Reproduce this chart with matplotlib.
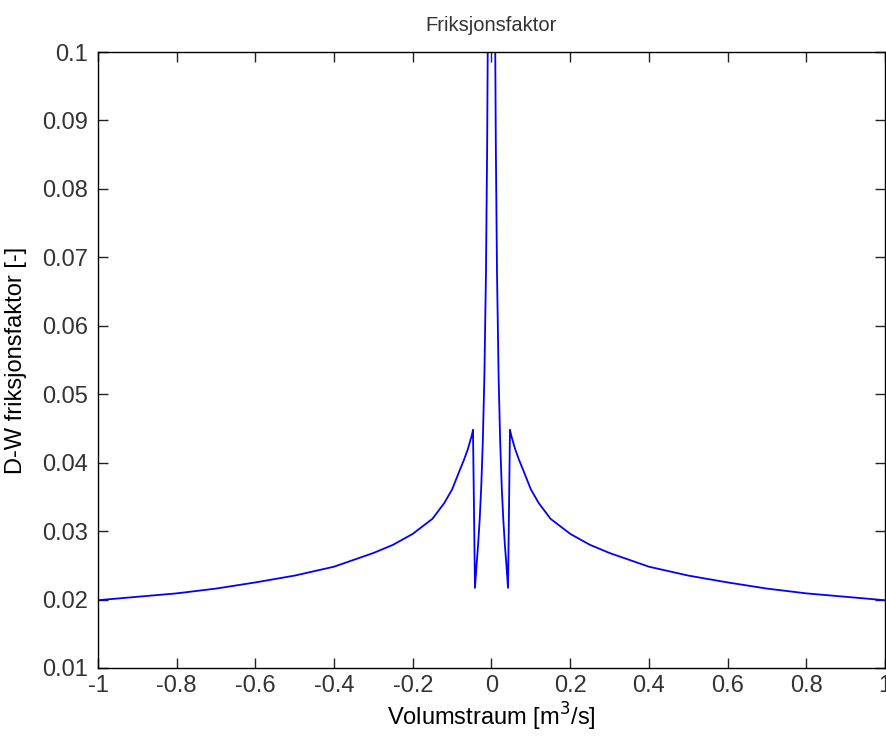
import matplotlib
matplotlib.use("Agg")
import matplotlib.pyplot as plt

# ---- data (Q in m3/s, f = Darcy-Weisbach friction factor) ----
q_vals = [-1.0, -0.9, -0.8, -0.7, -0.6, -0.5, -0.4, -0.3, -0.25, -0.2, -0.15, -0.12,
          -0.1, -0.08, -0.07, -0.06, -0.05, -0.047,
          -0.042, -0.038, -0.034, -0.030, -0.026, -0.022, -0.018, -0.014, -0.011,
          -0.009, -0.007, -0.005,
          0.005, 0.007, 0.009,
          0.011, 0.014, 0.018, 0.022, 0.026, 0.030, 0.034, 0.038, 0.042,
          0.047, 0.05, 0.06, 0.07, 0.08, 0.1, 0.12, 0.15, 0.2, 0.25, 0.3,
          0.4, 0.5, 0.6, 0.7, 0.8, 0.9, 1.0]
f_vals = [0.0199, 0.0204, 0.0209, 0.0216, 0.0225, 0.0235, 0.0248, 0.0268, 0.0280, 0.0296,
          0.0318, 0.0341, 0.0361, 0.0390, 0.0404, 0.0420, 0.0440, 0.0448,
          0.0217, 0.0250, 0.0280, 0.0317, 0.0365, 0.0432, 0.0528, 0.0679, 0.0864,
          0.1056, 0.1360, 0.1900,
          0.1900, 0.1360, 0.1056,
          0.0864, 0.0679, 0.0528, 0.0432, 0.0365, 0.0317, 0.0280, 0.0250, 0.0217,
          0.0448, 0.0440, 0.0420, 0.0404, 0.0390, 0.0361, 0.0341, 0.0318, 0.0296,
          0.0280, 0.0268, 0.0248, 0.0235, 0.0225, 0.0216, 0.0209, 0.0204, 0.0199]

x_ticks = [-1, -0.8, -0.6, -0.4, -0.2, 0, 0.2, 0.4, 0.6, 0.8, 1]
x_tick_labels = ["-1", "-0.8", "-0.6", "-0.4", "-0.2", "0", "0.2", "0.4", "0.6", "0.8", "1"]
y_ticks = [0.01, 0.02, 0.03, 0.04, 0.05, 0.06, 0.07, 0.08, 0.09, 0.1]
y_tick_labels = ["0.01", "0.02", "0.03", "0.04", "0.05", "0.06", "0.07", "0.08", "0.09", "0.1"]

plt.rcParams['font.family'] = ['Liberation Sans', 'DejaVu Sans']
plt.rcParams['font.size'] = 17
plt.rcParams['text.color'] = '#333333'
plt.rcParams['xtick.color'] = '#222222'
plt.rcParams['ytick.color'] = '#222222'
plt.rcParams['xtick.labelcolor'] = '#333333'
plt.rcParams['ytick.labelcolor'] = '#333333'

fig = plt.figure(figsize=(8.87, 7.38), dpi=100, facecolor='white')
ax = fig.add_axes([0.1105, 0.0949, 0.8872, 0.8346])

ax.plot(q_vals, f_vals, color=(0, 0, 1), lw=1.3)

ax.set_xlim(-1, 1)
ax.set_ylim(0.01, 0.1)
ax.set_xticks(x_ticks)
ax.set_xticklabels(x_tick_labels)
ax.set_yticks(y_ticks)
ax.set_yticklabels(y_tick_labels)
ax.tick_params(direction='in', length=7, width=1, top=True, right=True)
ax.tick_params(axis='x', pad=5)
ax.tick_params(axis='y', pad=7)
for s in ax.spines.values():
    s.set_linewidth(1)

ax.set_title("Friksjonsfaktor", fontsize=14.5, pad=15)
ax.set_xlabel("Volumstraum [m$^3$/s]", labelpad=3)
ax.set_ylabel("D-W friksjonsfaktor [-]", labelpad=11)

fig.savefig("out.png", dpi=100)
